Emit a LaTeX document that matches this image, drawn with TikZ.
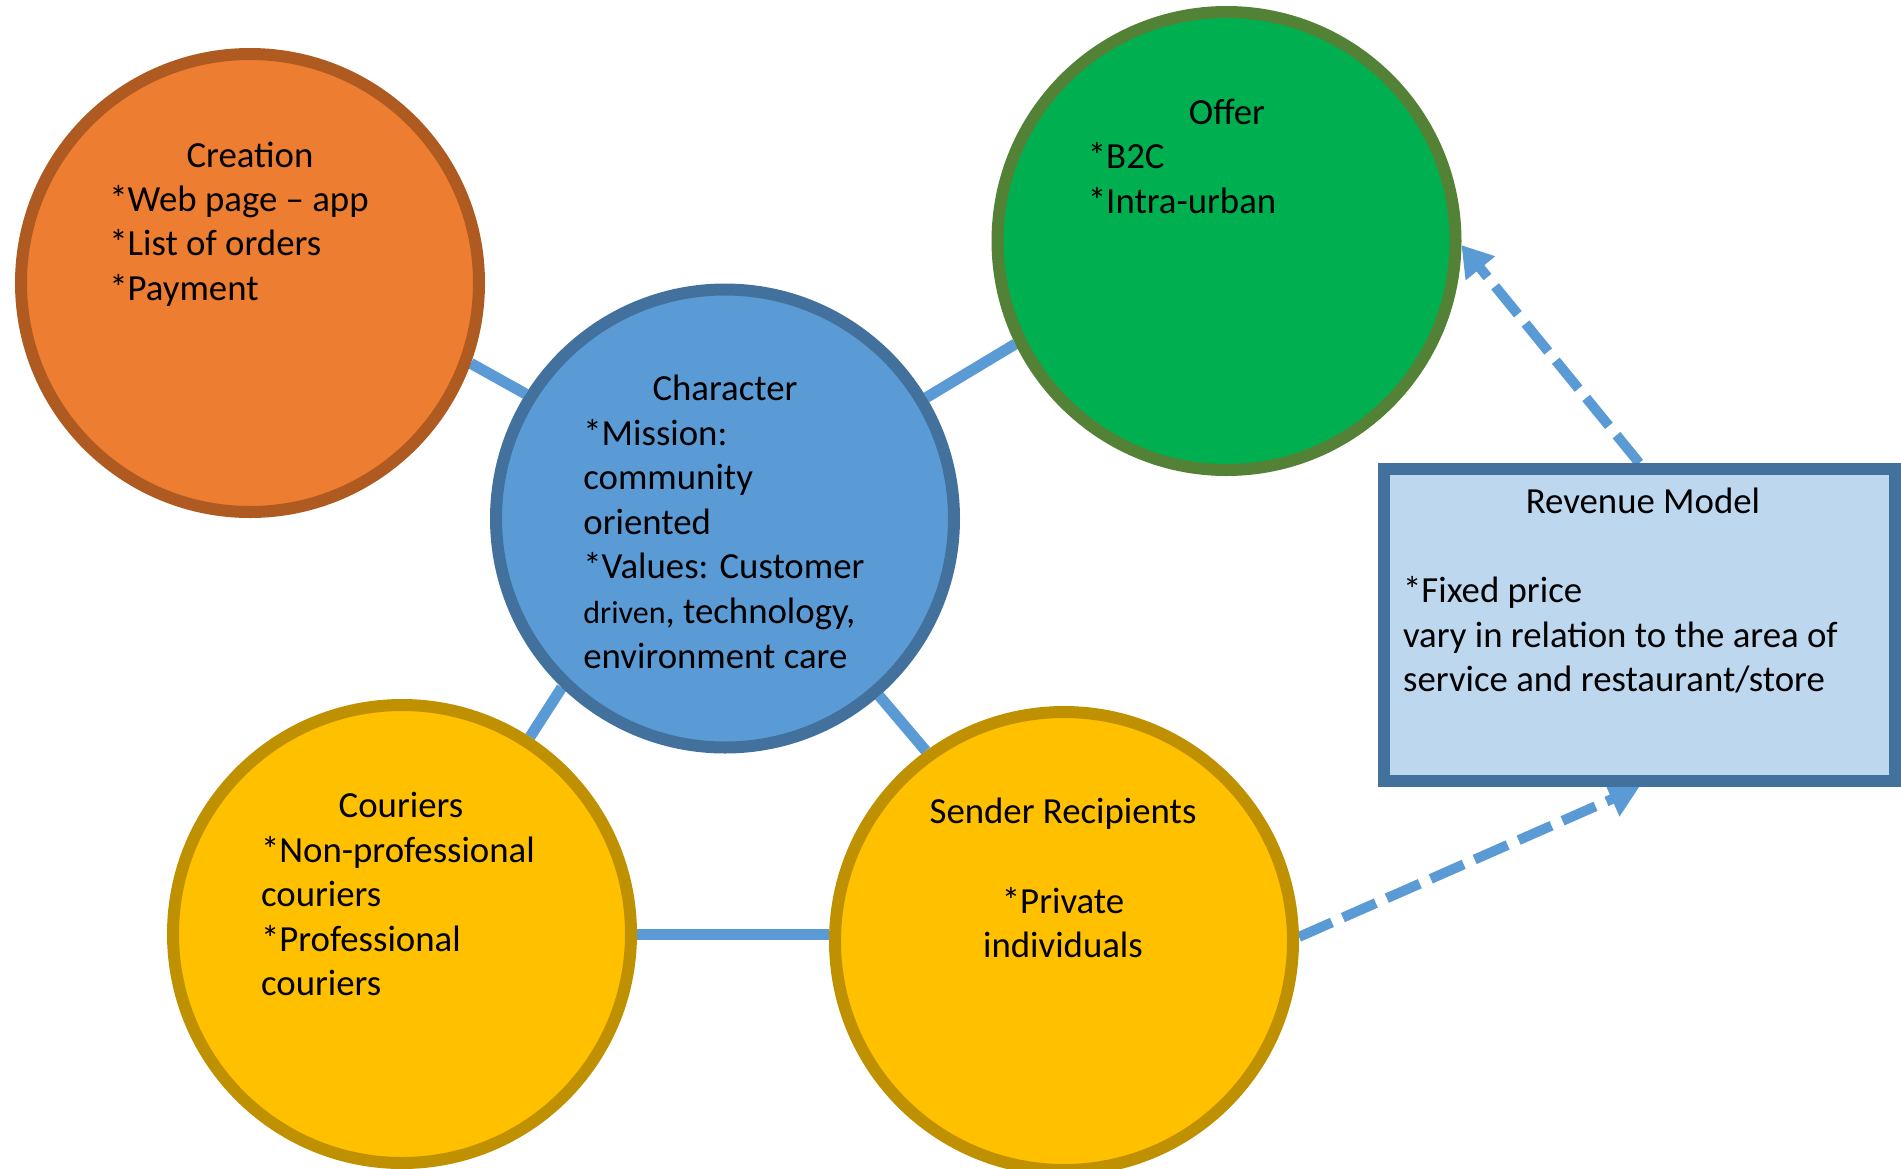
\documentclass[tikz,border=0pt]{standalone}
\usepackage{fontspec}
\setmainfont{Carlito}
\usetikzlibrary{arrows.meta,backgrounds}
\definecolor{orfill}{HTML}{ED7D31}
\definecolor{ordraw}{HTML}{AE5A21}
\definecolor{blfill}{HTML}{5B9BD5}
\definecolor{bldraw}{HTML}{41719C}
\definecolor{grfill}{HTML}{00B050}
\definecolor{grdraw}{HTML}{538135}
\definecolor{yefill}{HTML}{FFC000}
\definecolor{yedraw}{HTML}{BF9000}
\definecolor{boxfill}{HTML}{BDD7EE}
\definecolor{linkblue}{HTML}{5B9BD5}
\begin{document}
\begin{tikzpicture}[x=0.5pt,y=-0.5pt,
  bubble/.style={circle, minimum size=229pt, inner sep=0pt, line width=6pt},
  revbox/.style={rectangle, minimum width=255.75pt, minimum height=156pt, inner sep=0pt, line width=6pt, draw=bldraw, fill=boxfill},
  title/.style={anchor=base, inner sep=0pt, font=\fontsize{18.4}{22.3}\selectfont},
  body/.style={anchor=base west, inner sep=0pt, font=\fontsize{18.4}{22.3}\selectfont},
  cbody/.style={anchor=base, inner sep=0pt, font=\fontsize{18.4}{22.3}\selectfont},
  link/.style={draw=linkblue, line width=5.5pt},
  dasharrow/.style={draw=linkblue, line width=5pt, dash pattern=on 18pt off 6pt, -{Triangle[length=15pt,width=18pt]}}
]
\clip (0,0) rectangle (1901,1168);

% circles
\node[bubble, draw=ordraw, fill=orfill] (cre) at (250,283) {};
\node[bubble, draw=bldraw, fill=blfill] (cha) at (725,518.5) {};
\node[bubble, draw=grdraw, fill=grfill] (off) at (1226.5,241) {};
\node[bubble, draw=yedraw, fill=yefill] (cou) at (402,934) {};
\node[bubble, draw=yedraw, fill=yefill] (sen) at (1064,941) {};
\node[revbox] (rev) at (1639.25,625) {};

% texts
\node[title] (cre-t) at (250,167) {Creation};
\node[body] (cre-b) at (109,211) {\begin{tabular}[t]{@{}l@{}}{*}Web page – app\\{*}List of orders\\{*}Payment\end{tabular}};

\node[title] (cha-t) at (725,400) {Character};
\node[body] (cha-b) at (583,445) {\begin{tabular}[t]{@{}l@{}}{*}Mission:\\community\\oriented\\{*}Values: Customer\\{\fontsize{16}{22.3}\selectfont driven}, technology,\\environment care\end{tabular}};

\node[title] (off-t) at (1227,124) {Offer};
\node[body] (off-b) at (1087.5,168.5) {\begin{tabular}[t]{@{}l@{}}{*}B2C\\{*}Intra-urban\end{tabular}};

\node[title] (cou-t) at (401,817) {Couriers};
\node[body] (cou-b) at (260.7,862) {\begin{tabular}[t]{@{}l@{}}{*}Non-professional\\couriers\\{*}Professional\\couriers\end{tabular}};

\node[title] (sen-t) at (1063,823) {Sender Recipients};
\node[cbody] (sen-b) at (1063,913) {\begin{tabular}[t]{@{}c@{}}{*}Private\\individuals\end{tabular}};

\node[title] (rev-t) at (1643,513) {Revenue Model};
\node[body] (rev-b) at (1402.7,602.7) {\begin{tabular}[t]{@{}l@{}}{*}Fixed price\\vary in relation to the area of\\service and restaurant/store\end{tabular}};

% connectors
\begin{scope}[on background layer]
\draw[link] (cre.-20) -- (cha.148);
\draw[link] (cha.31) -- (off.206);
\draw[link] (cha.226) -- (cou.57);
\draw[link] (cha.-49) -- (sen.126);
\draw[link] (cou.east) -- (cou.east -| sen.west);
\draw[dasharrow] (rev.north) -- (off.-1);
\draw[dasharrow] (sen.1) -- (rev.south);
\end{scope}
\end{tikzpicture}
\end{document}
